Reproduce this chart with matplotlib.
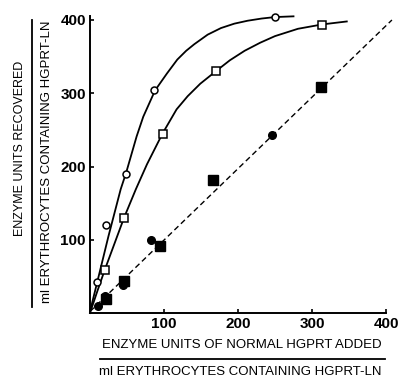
import matplotlib
matplotlib.use("Agg")
import matplotlib.pyplot as plt
from matplotlib.lines import Line2D

plt.rcParams['font.family'] = ['Liberation Sans', 'DejaVu Sans']

# open circles and their hand drawn curve
circ_open_x = [10, 22, 49, 87, 250]
circ_open_y = [42, 120, 190, 304, 404]
circ_curve_x = [0, 10, 25, 41.5, 49, 63, 72, 88, 104, 118, 130, 141, 159, 177, 195, 213, 232, 250, 275]
circ_curve_y = [2, 43, 105, 169, 192, 241, 268, 304, 327, 346, 358, 367, 380, 389, 395, 399, 402, 404, 405]

# open squares and their curve
sq_open_x = [20, 46, 98, 170, 314]
sq_open_y = [59, 130, 244, 330, 393]
sq_curve_x = [0, 10, 20, 46, 62, 77, 98, 117, 132, 149, 170, 189, 209, 230, 250, 281, 314, 347]
sq_curve_y = [0, 30, 59, 130, 169, 203, 245, 278, 296, 313, 330, 345, 358, 369, 378, 388, 394, 398]

# filled symbols on the dashed line
sq_fill_x = [21, 46, 95, 166, 312]
sq_fill_y = [19, 44, 92, 182, 308]
circ_fill_x = [11, 20, 45, 83, 246]
circ_fill_y = [10, 23, 38, 100, 243]
dash_x = [0, 408]
dash_y = [2, 400]

fig = plt.figure(figsize=(4.01, 3.79), dpi=100)
ax = fig.add_axes([0.2244, 0.1741, 0.7382, 0.7828])

ax.plot(circ_curve_x, circ_curve_y, '-', color='black', lw=1.3, zorder=2, clip_on=False)
ax.plot(sq_curve_x, sq_curve_y, '-', color='black', lw=1.3, zorder=2, clip_on=False)
ax.plot(dash_x, dash_y, '--', color='black', lw=1.0, dashes=(4, 2.5), zorder=2, clip_on=False)

ax.plot(circ_open_x, circ_open_y, 'o', ms=5, mfc='white', mec='black', mew=1.1, zorder=3, clip_on=False)
ax.plot(sq_open_x, sq_open_y, 's', ms=5.5, mfc='white', mec='black', mew=1.1, zorder=3, clip_on=False)
ax.plot(sq_fill_x, sq_fill_y, 's', ms=6.5, color='black', zorder=3, clip_on=False)
ax.plot(circ_fill_x, circ_fill_y, 'o', ms=5.5, color='black', zorder=3, clip_on=False)

ax.set_xlim(0, 400)
ax.set_ylim(0, 405)
ax.set_xticks([100, 200, 300, 400])
ax.set_yticks([100, 200, 300, 400])
for s in ['top', 'right']:
    ax.spines[s].set_visible(False)
for s in ['left', 'bottom']:
    ax.spines[s].set_linewidth(1.4)
ax.tick_params(direction='in', length=3, width=1.2, labelsize=11, pad=3)
for lab in ax.get_xticklabels() + ax.get_yticklabels():
    lab.set_fontweight('bold')

# axis titles drawn as fractions
fig.text(242 / 401, 1 - 345 / 379, 'ENZYME UNITS OF NORMAL HGPRT ADDED',
         ha='center', va='center', fontsize=9.5)
fig.add_artist(Line2D([100 / 401, 385 / 401], [1 - 359 / 379, 1 - 359 / 379],
                      color='black', lw=1.3))
fig.text(240 / 401, 1 - 372 / 379, 'ml ERYTHROCYTES CONTAINING HGPRT-LN',
         ha='center', va='center', fontsize=9.5)

fig.text(20 / 401, 1 - 148 / 379, 'ENZYME UNITS RECOVERED', rotation=90,
         ha='center', va='center', fontsize=9)
fig.add_artist(Line2D([32 / 401, 32 / 401], [1 - 307 / 379, 1 - 20 / 379],
                      color='black', lw=1.3))
fig.text(47 / 401, 1 - 162 / 379, 'ml ERYTHROCYTES CONTAINING HGPRT-LN', rotation=90,
         ha='center', va='center', fontsize=9.5)

fig.savefig('out.png', dpi=100)
